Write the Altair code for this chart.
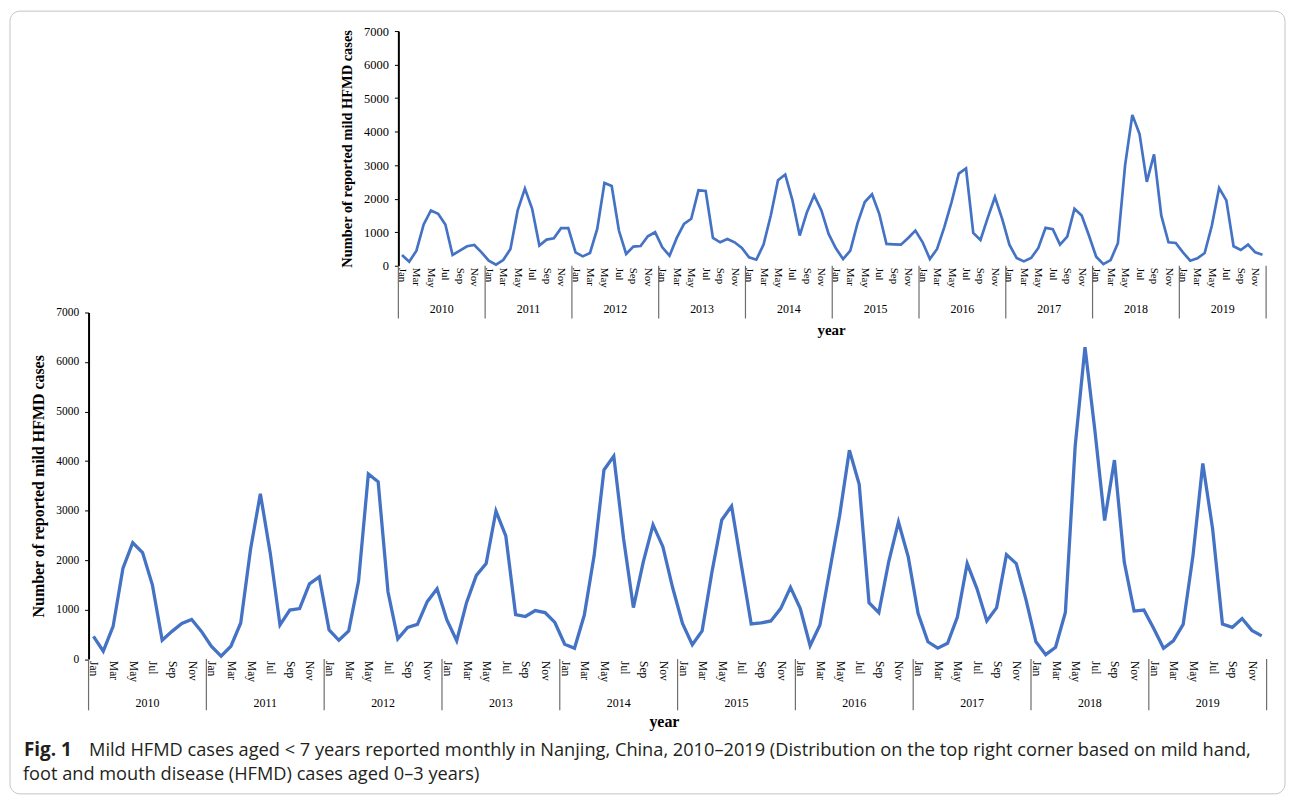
import altair as alt
import pandas as pd

# ---------------- data ----------------
MONTHS = ["Jan", "Feb", "Mar", "Apr", "May", "Jun", "Jul", "Aug", "Sep", "Oct", "Nov", "Dec"]
YEARS = [2010, 2011, 2012, 2013, 2014, 2015, 2016, 2017, 2018, 2019]
Y_TICKS = [0, 1000, 2000, 3000, 4000, 5000, 6000, 7000]

# mild HFMD cases aged < 7 years (main chart)
CASES_UNDER7 = [
    460, 160, 660, 1830, 2350, 2150, 1500, 380, 560, 720, 800, 560,      # 2010
    260, 60, 260, 730, 2220, 3340, 2150, 690, 990, 1020, 1520, 1660,     # 2011
    590, 380, 570, 1570, 3740, 3580, 1360, 410, 640, 700, 1160, 1420,    # 2012
    790, 370, 1140, 1690, 1930, 2990, 2490, 900, 860, 980, 940, 740,     # 2013
    300, 220, 890, 2090, 3820, 4100, 2430, 1040, 1960, 2710, 2270, 1440, # 2014
    720, 290, 570, 1760, 2810, 3090, 1890, 710, 730, 770, 1020, 1450,    # 2015
    1020, 270, 690, 1790, 2890, 4220, 3530, 1140, 940, 1960, 2770, 2060, # 2016
    920, 350, 220, 320, 850, 1930, 1420, 770, 1040, 2110, 1930, 1190,    # 2017
    350, 90, 240, 940, 4300, 6300, 4630, 2800, 4020, 1960, 970, 990,     # 2018
    620, 220, 370, 700, 2090, 3950, 2630, 710, 640, 820, 580, 470,       # 2019
]

# mild HFMD cases aged 0-3 years (inset, top right)
CASES_0_3 = [
    320, 120, 450, 1230, 1650, 1550, 1230, 320, 450, 580, 620, 400,      # 2010
    150, 30, 170, 500, 1650, 2300, 1700, 600, 780, 820, 1120, 1120,      # 2011
    400, 280, 380, 1100, 2470, 2380, 1050, 350, 570, 590, 880, 1000,     # 2012
    550, 300, 830, 1250, 1400, 2250, 2230, 830, 700, 800, 700, 530,      # 2013
    250, 180, 630, 1500, 2550, 2720, 1950, 900, 1600, 2100, 1650, 950,   # 2014
    520, 200, 450, 1270, 1900, 2130, 1550, 650, 640, 630, 830, 1050,     # 2015
    700, 200, 500, 1150, 1900, 2750, 2900, 980, 770, 1430, 2050, 1400,   # 2016
    630, 230, 130, 230, 530, 1130, 1090, 630, 870, 1700, 1500, 900,      # 2017
    270, 50, 170, 670, 3000, 4500, 3930, 2500, 3320, 1500, 700, 680,     # 2018
    400, 150, 220, 380, 1200, 2320, 1950, 580, 470, 630, 400, 330,       # 2019
]

Y_TITLE = "Number of reported mild HFMD cases"
X_TITLE = "year"
CAPTION_BOLD = "Fig. 1"
CAPTION_1 = ("Mild HFMD cases aged < 7 years reported monthly in Nanjing, China, 2010\u20132019 "
             "(Distribution on the top right corner based on mild hand,")
CAPTION_2 = "foot and mouth disease (HFMD) cases aged 0\u20133 years)"

# ---------------- tables ----------------
rows = []
for k, yr in enumerate(YEARS):
    for m, mon in enumerate(MONTHS):
        i = 12 * k + m
        rows.append({"pos": i + 0.5, "month": mon, "year": yr,
                     "under7": CASES_UNDER7[i], "age03": CASES_0_3[i]})
df = pd.DataFrame(rows)
label_df = df[df.index % 2 == 0].reset_index(drop=True)
year_df = pd.DataFrame({"yr": [str(y) for y in YEARS], "mid": [12 * k + 6 for k in range(len(YEARS))]})
bound_df = pd.DataFrame({"b": [12 * k for k in range(len(YEARS) + 1)]})
one = pd.DataFrame({"a": [0]})

W, H = 1286, 790
SERIF = "Liberation Serif"
SANS = "Open Sans"
BLUE = "#4472C4"
M = 8  # page margin


def panel(field, x0, x1, y0, y1, tick_fs, month_fs, title_fs, xtitle_fs, line_w,
          tick_len, sep_bottom, year_y, xtitle_x, xtitle_y, ytitle_pad):
    xs = alt.Scale(domain=[0, 120], range=[x0 - M, x1 - M], nice=False, zero=False)
    ys = alt.Scale(domain=[0, 7000], range=[y0 - M, y1 - M], nice=False)
    ax_y = y0 - M
    line = alt.Chart(df).mark_line(color=BLUE, strokeWidth=line_w).encode(
        x=alt.X("pos:Q", scale=xs, axis=alt.Axis(
            orient="bottom", offset=ax_y - H, values=list(range(121)), labels=False,
            tickSize=tick_len, tickColor="#7a7a7a", tickWidth=1,
            domainColor="black", domainWidth=2.5, grid=False, title=None)),
        y=alt.Y(f"{field}:Q", scale=ys, axis=alt.Axis(
            orient="left", offset=-(x0 - M), values=Y_TICKS, format="d",
            tickSize=4, tickColor="black", tickWidth=1, domainColor="black", domainWidth=2,
            labelFont=SERIF, labelFontSize=tick_fs, labelColor="black", labelPadding=6,
            labelFlush=False, labelOverlap=False, grid=False,
            title=Y_TITLE, titleFont=SERIF, titleFontSize=title_fs, titleFontWeight="bold",
            titleColor="black", titlePadding=ytitle_pad)),
    )
    months = alt.Chart(label_df).mark_text(
        angle=90, align="left", baseline="middle", font=SERIF, fontSize=month_fs, color="black"
    ).encode(x=alt.X("pos:Q", scale=xs, axis=None), y=alt.value(ax_y + 2), text="month:N")
    seps = alt.Chart(bound_df).mark_rule(color="#6e6e6e", strokeWidth=1.2).encode(
        x=alt.X("b:Q", scale=xs, axis=None), y=alt.value(ax_y), y2=alt.value(sep_bottom - M))
    years = alt.Chart(year_df).mark_text(
        align="center", baseline="middle", font=SERIF, fontSize=12, color="black"
    ).encode(x=alt.X("mid:Q", scale=xs, axis=None), y=alt.value(year_y - M), text="yr:N")
    xtitle = alt.Chart(one).mark_text(
        align="center", baseline="middle", font=SERIF, fontSize=xtitle_fs, fontWeight="bold",
        color="black"
    ).encode(x=alt.value(xtitle_x - M), y=alt.value(xtitle_y - M), text=alt.value(X_TITLE))
    return alt.layer(line, seps, months, years, xtitle)


inset = panel("age03", 400.5, 1273, 265, 29, tick_fs=12.5, month_fs=11, title_fs=14.5,
              xtitle_fs=15, line_w=2.7, tick_len=30, sep_bottom=318, year_y=309,
              xtitle_x=836, xtitle_y=330, ytitle_pad=9)
main = panel("under7", 89, 1273.5, 660.5, 312, tick_fs=11.5, month_fs=11.5, title_fs=16,
             xtitle_fs=16, line_w=3.3, tick_len=29, sep_bottom=712, year_y=705,
             xtitle_x=668, xtitle_y=724, ytitle_pad=9)

border = alt.Chart(one).mark_rect(
    fill="white", fillOpacity=0, stroke="#c4c4c4", strokeWidth=1, cornerRadius=10
).encode(x=alt.value(10 - M), x2=alt.value(1292 - M), y=alt.value(9 - M), y2=alt.value(796 - M))

cap_bold = alt.Chart(one).mark_text(
    align="left", baseline="alphabetic", font=SANS, fontSize=19, fontWeight="bold", color="#231f20"
).encode(x=alt.value(24 - M), y=alt.value(757.5 - M), text=alt.value(CAPTION_BOLD))
cap1 = alt.Chart(one).mark_text(
    align="left", baseline="alphabetic", font=SANS, fontSize=18.3, color="#231f20"
).encode(x=alt.value(89.5 - M), y=alt.value(757.5 - M), text=alt.value(CAPTION_1))
cap2 = alt.Chart(one).mark_text(
    align="left", baseline="alphabetic", font=SANS, fontSize=18.3, color="#231f20"
).encode(x=alt.value(23 - M), y=alt.value(782 - M), text=alt.value(CAPTION_2))

chart = alt.layer(border, inset, main, cap_bold, cap1, cap2).resolve_scale(
    x="independent", y="independent"
).resolve_axis(
    x="independent", y="independent"
).properties(
    width=W, height=H, padding=0, autosize=alt.AutoSizeParams(type="none")
).configure_view(stroke=None)

chart.save("out.html", embed_options={"renderer": "svg", "actions": False})
